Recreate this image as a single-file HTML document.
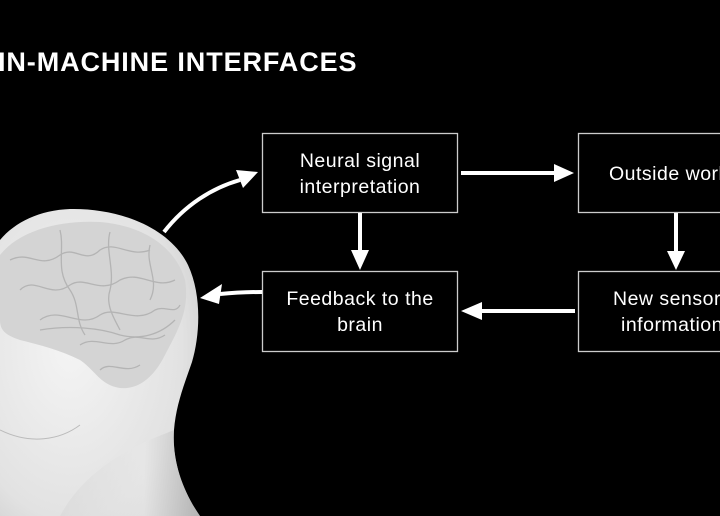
<!DOCTYPE html>
<html><head><style>
html,body{margin:0;padding:0;background:#000;}
body{width:720px;height:516px;overflow:hidden;position:relative;font-family:"Liberation Sans",sans-serif;}
svg{position:absolute;left:0;top:0;}
</style></head><body>
<svg width="720" height="516" viewBox="0 0 720 516">
<defs>
<radialGradient id="hg" cx="0.35" cy="0.45" r="0.8">
<stop offset="0" stop-color="#f4f4f4"/><stop offset="0.7" stop-color="#e2e2e2"/><stop offset="1" stop-color="#c8c8c8"/>
</radialGradient>
<linearGradient id="ng" x1="0" y1="0" x2="1" y2="0">
<stop offset="0" stop-color="#d8d8d8"/><stop offset="0.6" stop-color="#e8e8e8"/><stop offset="1" stop-color="#a8a8a8"/>
</linearGradient>
</defs>
<rect width="720" height="516" fill="#000"/>
<text x="-2" y="71" fill="#fff" font-size="27" font-weight="bold" letter-spacing="0.9">IN-MACHINE INTERFACES</text>
<path d="M0,240 C15,222 40,210 70,209 C120,208 170,228 188,265 C202,295 200,335 192,362 C184,385 176,405 174,430 C172,460 182,490 200,516 L0,516 Z" fill="url(#hg)"/>
<path d="M60,516 C90,460 150,440 174,430 C172,460 182,490 200,516 Z" fill="url(#ng)" opacity="0.6"/>
<path d="M0,255 C20,230 60,220 100,222 C140,225 175,245 185,280 C190,310 178,330 165,355 C155,375 140,390 120,388 C100,385 95,370 80,360 C60,350 40,345 20,340 C5,335 0,330 0,320 Z" fill="#d4d4d4"/>
<g stroke="#b4b4b4" stroke-width="1.3" fill="none">
<path d="M10,260 C30,250 40,270 60,255 C75,245 85,265 100,250 C115,240 130,258 150,250"/>
<path d="M20,290 C35,275 50,300 70,285 C85,275 100,295 120,280 C140,270 155,290 175,280"/>
<path d="M40,320 C60,305 80,330 100,315 C115,305 135,325 155,310 C165,305 175,315 180,305"/>
<path d="M80,345 C95,335 110,350 125,340 C140,332 150,345 165,335"/>
<path d="M100,370 C110,360 125,375 140,365"/>
<path d="M60,230 C65,250 55,270 70,290 C80,305 75,320 85,335"/>
<path d="M110,232 C105,250 115,270 110,290 C105,305 115,320 120,330"/>
<path d="M150,245 C145,265 160,280 150,300"/>
<path d="M40,330 C70,325 100,328 120,335 C140,340 160,335 175,320"/>
</g>
<path d="M0,430 C30,445 60,440 80,425" stroke="#bbb" stroke-width="1" fill="none"/>
<g fill="none" stroke="#ccc" stroke-width="1.3">
<rect x="262.5" y="133.5" width="195" height="79"/>
<rect x="578.5" y="133.5" width="160" height="79"/>
<rect x="262.5" y="271.5" width="195" height="80"/>
<rect x="578.5" y="271.5" width="160" height="80"/>
</g>
<g fill="#fff" font-size="19.5" letter-spacing="0.5" text-anchor="middle">
<text x="360" y="167">Neural signal</text>
<text x="360" y="193">interpretation</text>
<text x="360" y="305">Feedback to the</text>
<text x="360" y="331">brain</text>
<text x="609" y="180" text-anchor="start">Outside world</text>
<text x="613" y="305" text-anchor="start">New sensory</text>
<text x="621" y="331" text-anchor="start">information</text>
</g>
<g stroke="#fff" stroke-width="4" fill="none">
<path d="M164,232 C185,205 212,188 240,180"/>
<line x1="461" y1="173" x2="555" y2="173"/>
<line x1="676" y1="213" x2="676" y2="252"/>
<line x1="360" y1="213" x2="360" y2="250"/>
<line x1="575" y1="311" x2="482" y2="311"/>
<path d="M262,292 C245,292 230,293 220,294"/>
</g>
<g fill="#fff">
<polygon points="258,172 236,170 243,188"/>
<polygon points="574,173 554,164 554,182"/>
<polygon points="676,270 667,251 685,251"/>
<polygon points="360,270 351,250 369,250"/>
<polygon points="461,311 482,302 482,320"/>
<polygon points="200,298 222,284 219,304"/>
</g>
</svg>
</body></html>
